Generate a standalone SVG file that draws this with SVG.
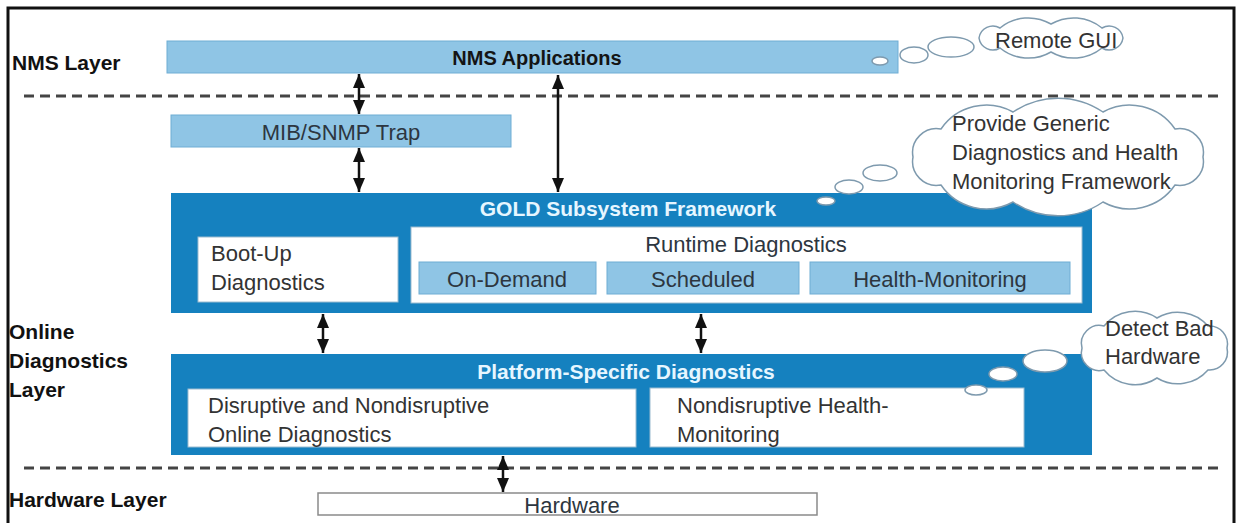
<svg xmlns="http://www.w3.org/2000/svg" width="1241" height="523" viewBox="0 0 1241 523">
  <defs>
    <marker id="head" viewBox="0 0 14 12" refX="14" refY="6" markerWidth="14" markerHeight="12" markerUnits="userSpaceOnUse" orient="auto-start-reverse">
      <path d="M0,0 L14,6 L0,12 z" fill="#111"/>
    </marker>
    <style>
      text { font-family: "Liberation Sans", Arial, sans-serif; }
      .layer { font-size: 21px; font-weight: bold; fill: #111; }
      .lbl { font-size: 22px; fill: #333; }
      .lblc { font-size: 22px; fill: #2d3640; text-anchor: middle; }
      .title { font-size: 21px; font-weight: bold; fill: #e6f6ff; text-anchor: middle; }
      .light { fill: #8fc5e5; stroke: #6fadd4; stroke-width: 1; }
      .dark { fill: #1581bf; }
      .white { fill: #ffffff; stroke: #9bbcd0; stroke-width: 1; }
      .cloud { fill: #ffffff; stroke: #7e9aae; stroke-width: 1.5; }
      .divider { stroke: #444; stroke-width: 3; stroke-dasharray: 10 6; fill: none; }
      .arrow { stroke: #111; stroke-width: 2.5; fill: none; marker-start: url(#head); marker-end: url(#head); }
    </style>
  </defs>

  <rect width="1241" height="523" fill="#ffffff"/>
  <!-- outer frame -->
  <path d="M8,523 V8 H1234 V523" fill="none" stroke="#111" stroke-width="3"/>

  <!-- layer dividers -->
  <g id="dividers">
    <line class="divider" x1="24" y1="96" x2="1222" y2="96"/>
    <line class="divider" x1="24" y1="468" x2="1222" y2="468"/>
  </g>

  <!-- layer labels -->
  <g id="layer-labels">
    <text class="layer" x="12" y="70">NMS Layer</text>
    <text class="layer" x="9" y="339">Online</text>
    <text class="layer" x="9" y="368">Diagnostics</text>
    <text class="layer" x="9" y="397">Layer</text>
    <text class="layer" x="9" y="507">Hardware Layer</text>
  </g>

  <g id="nms-applications">
    <rect class="light" x="167" y="41" width="731" height="32"/>
    <text x="537" y="65" style="font-size:20px;font-weight:bold;fill:#141414;text-anchor:middle">NMS Applications</text>
  </g>

  <g id="mib-snmp-trap">
    <rect class="light" x="171" y="115" width="340" height="32"/>
    <text class="lblc" x="341" y="140">MIB/SNMP Trap</text>
  </g>

  <g id="gold-framework">
    <rect class="dark" x="171" y="193" width="921" height="120"/>
    <text class="title" x="628" y="216">GOLD Subsystem Framework</text>
  </g>

  <g id="boot-up">
    <rect class="white" x="198" y="237" width="200" height="65"/>
    <text class="lbl" x="211" y="261">Boot-Up</text>
    <text class="lbl" x="211" y="290">Diagnostics</text>
  </g>

  <g id="runtime">
    <rect class="white" x="411" y="227" width="671" height="76"/>
    <text class="lblc" x="746" y="252">Runtime Diagnostics</text>
  </g>

  <g id="on-demand">
    <rect class="light" x="419" y="262" width="177" height="32"/>
    <text class="lblc" x="507" y="287">On-Demand</text>
  </g>

  <g id="scheduled">
    <rect class="light" x="607" y="262" width="192" height="32"/>
    <text class="lblc" x="703" y="287">Scheduled</text>
  </g>

  <g id="health-monitoring">
    <rect class="light" x="810" y="262" width="260" height="32"/>
    <text class="lblc" x="940" y="287">Health-Monitoring</text>
  </g>

  <g id="platform-specific">
    <rect class="dark" x="171" y="354" width="921" height="101"/>
    <text class="title" x="626" y="379">Platform-Specific Diagnostics</text>
  </g>

  <g id="disruptive">
    <rect class="white" x="188" y="389" width="448" height="58"/>
    <text class="lbl" x="208" y="413">Disruptive and Nondisruptive</text>
    <text class="lbl" x="208" y="442">Online Diagnostics</text>
  </g>

  <g id="nondisruptive">
    <rect class="white" x="650" y="388" width="374" height="59"/>
    <text class="lbl" x="677" y="413">Nondisruptive Health-</text>
    <text class="lbl" x="677" y="442">Monitoring</text>
  </g>

  <g id="hardware">
    <rect x="318" y="493" width="499" height="22" fill="#ffffff" stroke="#8a8a8a" stroke-width="1.5"/>
    <text class="lblc" x="572" y="513">Hardware</text>
  </g>

  <!-- connectors -->
  <g id="connectors">
    <line class="arrow" x1="359" y1="74" x2="359" y2="114"/>
    <line class="arrow" x1="359" y1="148" x2="359" y2="192"/>
    <line class="arrow" x1="558" y1="75" x2="558" y2="192"/>
    <line class="arrow" x1="323" y1="314" x2="323" y2="353"/>
    <line class="arrow" x1="701" y1="314" x2="701" y2="353"/>
    <line class="arrow" x1="503" y1="456" x2="503" y2="492"/>
  </g>

  <!-- thought bubbles -->
  <g id="cloud-remote-gui">
    <ellipse class="cloud" cx="880" cy="61" rx="8" ry="4"/>
    <ellipse class="cloud" cx="914" cy="55" rx="14" ry="8"/>
    <ellipse class="cloud" cx="951" cy="47" rx="23" ry="10"/>
    <path class="cloud" d="M979,38 A14,14 0 0 1 1000,28 A45,45 0 0 1 1051,24 A45,45 0 0 1 1102,28 A14,14 0 0 1 1123,38 A14,14 0 0 1 1102,48 A45,45 0 0 1 1051,52 A45,45 0 0 1 1000,48 A14,14 0 0 1 979,38 Z"/>
    <text class="lbl" x="995" y="48">Remote GUI</text>
  </g>

  <g id="cloud-generic">
    <ellipse class="cloud" cx="826" cy="201" rx="9" ry="4"/>
    <ellipse class="cloud" cx="849" cy="187" rx="14" ry="7"/>
    <ellipse class="cloud" cx="880" cy="173" rx="17" ry="8"/>
    <path class="cloud" d="M913,157 A24,24 0 0 1 941,129 A55,55 0 0 1 1013,112 A80,80 0 0 1 1103,112 A55,55 0 0 1 1175,129 A24,24 0 0 1 1203,157 A24,24 0 0 1 1175,185 A55,55 0 0 1 1103,202 A80,80 0 0 1 1013,202 A55,55 0 0 1 941,185 A24,24 0 0 1 913,157 Z"/>
    <text class="lbl" x="952" y="131">Provide Generic</text>
    <text class="lbl" x="952" y="160">Diagnostics and Health</text>
    <text class="lbl" x="952" y="189">Monitoring Framework</text>
  </g>

  <g id="cloud-bad-hardware">
    <ellipse class="cloud" cx="976" cy="390" rx="11" ry="5"/>
    <ellipse class="cloud" cx="1003" cy="374" rx="14" ry="7"/>
    <ellipse class="cloud" cx="1045" cy="361" rx="22" ry="11"/>
    <path class="cloud" d="M1082,348 A18,18 0 0 1 1104,326 A40,40 0 0 1 1157,318 A40,40 0 0 1 1208,326 A18,18 0 0 1 1227,348 A18,18 0 0 1 1208,370 A40,40 0 0 1 1157,378 A40,40 0 0 1 1104,370 A18,18 0 0 1 1082,348 Z"/>
    <text class="lbl" x="1105" y="336">Detect Bad</text>
    <text class="lbl" x="1105" y="364">Hardware</text>
  </g>
</svg>
